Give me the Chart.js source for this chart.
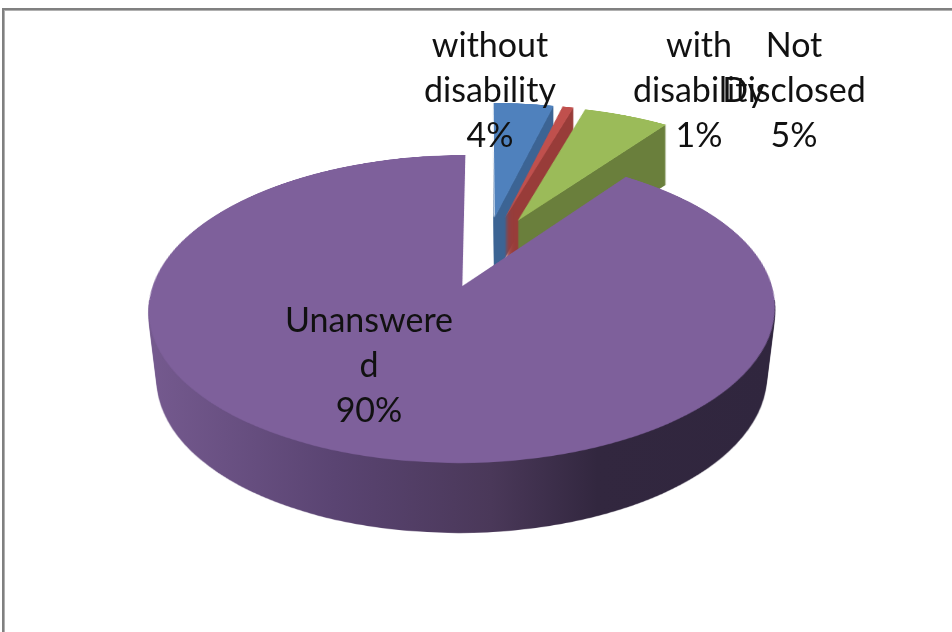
<!DOCTYPE html>
<html>
<head>
<meta charset="utf-8">
<style>
  html, body { margin: 0; padding: 0; background: #fff; }
  canvas { display: block; }
</style>
<script src="https://cdn.jsdelivr.net/npm/chart.js@4"></script>
</head>
<body>
<canvas id="chart" width="952" height="632"></canvas>
<script>
const categories = ['without disability', 'with disability', 'Not Disclosed', 'Unanswered'];
const shares = [3.8, 0.7, 5.4, 90.1];
const labelLines = [
  ['without', 'disability', '4%'],
  ['with', 'disability', '1%'],
  ['Not', 'Disclosed', '5%'],
  ['Unanswere', 'd', '90%'],
];

const topColors = ['#4f81bd', '#c0504d', '#9bbb59', '#7e609b'];
const sideStops = [
  [[0, '#3c6494'], [1, '#3c6494']],
  [[0, '#983c39'], [1, '#983c39']],
  [[0, '#6a7f3c'], [1, '#6a7f3c']],
  [[0, '#755a8f'], [0.3, '#5a4472'], [0.55, '#4a3859'], [0.72, '#32273f'], [1, '#30263e']],
];
const sideDepth = [60, 60, 60, 70];
const sideTaper = [0, 0, 0, 0.0004];
const sideTrimX = [-1, -1, -1, 0];
const sideFromRow = [0, 0, 0, 300];
const labelCenters = [[490, 57], [699, 57], [794, 57], [369, 332]];
const labelStep = 45;

// flat pie -> tilted pie, one row at a time
const flatSize = 1000;
const flatRadius = 300;
const explode = 0.25;
const view = { x0: 486, y0: 251.4, a: 299, b: 104.16, p: -0.1442 };
const taperCenter = 460;

function newLayer(w, h) {
  const c = document.createElement('canvas');
  c.width = w;
  c.height = h;
  return c;
}

function tilt(flat, w, h) {
  const out = newLayer(w, h);
  const ctx = out.getContext('2d');
  const { x0, y0, a, b, p } = view;
  const rowV = y => (y - y0) / (b - y * p);
  for (let y = 0; y < h; y++) {
    const v1 = rowV(y);
    const v2 = rowV(y + 1);
    const sy = flatSize / 2 + v1 * flatRadius;
    const sh = (v2 - v1) * flatRadius;
    if (sy + sh < 0 || sy > flatSize) continue;
    const scale = a / (1 + p * (v1 + v2) / 2) / flatRadius;
    ctx.drawImage(flat, 0, sy, flatSize, sh, x0 - scale * flatSize / 2, y, scale * flatSize, 1);
  }
  return out;
}

// stack the top shape downwards, then colour the whole stack at once
function sideLayer(top, i) {
  const out = newLayer(top.width, top.height);
  const ctx = out.getContext('2d');
  for (let d = sideDepth[i]; d > 0; d--) {
    const s = 1 - d * sideTaper[i];
    ctx.drawImage(top, taperCenter * (1 - s), d, top.width * s, top.height);
  }
  ctx.globalCompositeOperation = 'source-in';
  const g = ctx.createLinearGradient(147, 0, 773, 0);
  sideStops[i].forEach(s => g.addColorStop(s[0], s[1]));
  ctx.fillStyle = g;
  ctx.fillRect(0, 0, out.width, out.height);
  // stacked antialiasing leaves a dark hairline along the back edges, take it out
  ctx.globalCompositeOperation = 'destination-out';
  if (sideTrimX[i]) ctx.drawImage(top, sideTrimX[i], 0);
  ctx.clearRect(0, 0, out.width, sideFromRow[i]);
  return out;
}

const pie3d = {
  id: 'pie3d',
  beforeDraw(chart) {
    const ctx = chart.ctx;
    ctx.fillStyle = '#808080';
    ctx.fillRect(2, 8, chart.width - 2, 2);
    ctx.fillRect(2, 8, 2, chart.height - 8);
    ctx.fillStyle = '#b0b0b0';
    ctx.fillRect(4, 10, chart.width - 4, 1);
    ctx.fillRect(4, 10, 1, chart.height - 10);
  },
  beforeDatasetsDraw(chart) {
    const ctx = chart.ctx;
    chart.getDatasetMeta(0).data.forEach((arc, i) => {
      const flat = newLayer(flatSize, flatSize);
      const fctx = flat.getContext('2d');
      const mid = (arc.startAngle + arc.endAngle) / 2;
      fctx.translate(
        flatSize / 2 - arc.x + Math.cos(mid) * explode * flatRadius,
        flatSize / 2 - arc.y + Math.sin(mid) * explode * flatRadius
      );
      arc.draw(fctx);
      const top = tilt(flat, chart.width, chart.height);
      ctx.drawImage(sideLayer(top, i), 0, 0);
      ctx.drawImage(top, 0, 0);
    });
    return false;
  },
  afterDraw(chart) {
    const ctx = chart.ctx;
    ctx.save();
    ctx.font = '34px Lato';
    ctx.fillStyle = '#111';
    ctx.textAlign = 'center';
    labelLines.forEach((lines, i) => {
      lines.forEach((line, j) => {
        ctx.fillText(line, labelCenters[i][0], labelCenters[i][1] + j * labelStep);
      });
    });
    ctx.restore();
  },
};

new Chart(document.getElementById('chart'), {
  type: 'pie',
  data: {
    labels: categories,
    datasets: [{
      data: shares,
      backgroundColor: topColors,
      borderWidth: 0,
    }],
  },
  options: {
    responsive: false,
    animation: false,
    radius: flatRadius,
    plugins: {
      legend: { display: false },
      tooltip: { enabled: false },
    },
  },
  plugins: [pie3d],
});
</script>
</body>
</html>
